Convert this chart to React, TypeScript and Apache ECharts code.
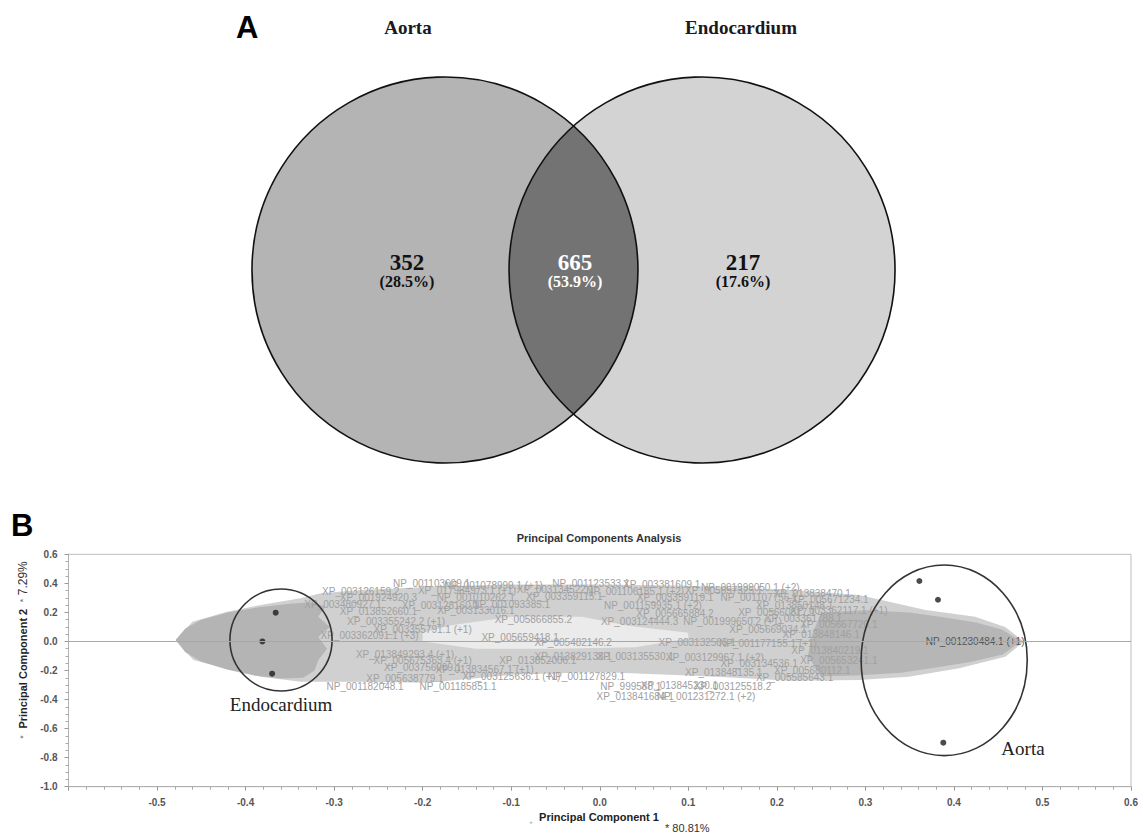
import React, { useEffect, useRef } from 'react';
import * as echarts from 'echarts';

// ---------- Panel A : Venn diagram ----------
const vennSetNames = ['Aorta', 'Endocardium'];
const vennSetCenterX = [-0.666, 0.666];
const vennSetCenterY = [0, 0];
const vennSetRadius = [1, 1];
const vennSetNameX = [-0.858, 0.868];
const vennSetNameY = [1.26, 1.26];
const vennRegionCounts = [352, 665, 217];
const vennRegionPercents = ['28.5%', '53.9%', '17.6%'];
const vennRegionX = [-0.863, 0.008, 0.878];
const vennRegionY = [0.04, 0.04, 0.04];

// ---------- Panel B : PCA ----------
const pcXMin = -0.6;
const pcXMax = 0.6;
const pcXInterval = 0.1;
const pcYMin = -1.0;
const pcYMax = 0.6;
const pcYInterval = 0.2;

const endocardiumPC1 = [-0.366, -0.381, -0.37];
const endocardiumPC2 = [0.198, 0.0, -0.222];
const aortaPC1 = [0.361, 0.382, 0.388];
const aortaPC2 = [0.416, 0.287, -0.697];

const groupNames = ['Endocardium', 'Aorta'];
const groupCenterX = [-0.36, 0.389];
const groupCenterY = [0.01, -0.13];
const groupRadiusX = [0.0577, 0.0938];
const groupRadiusY = [0.351, 0.656];
const groupLabelX = [-0.36, 0.478];
const groupLabelY = [-0.432, -0.735];

// outline of the protein cloud (PC1, PC2)
const cloudOutline = [
  [-0.479, 0.01], [-0.46, 0.136], [-0.421, 0.205], [-0.383, 0.251], [-0.338, 0.297],
  [-0.315, 0.331], [-0.27, 0.354], [-0.176, 0.38], [-0.1, 0.392], [0.0, 0.392],
  [0.1, 0.383], [0.217, 0.354], [0.293, 0.32], [0.368, 0.217], [0.424, 0.17],
  [0.458, 0.1], [0.479, -0.002], [0.458, -0.105], [0.406, -0.185], [0.349, -0.243],
  [0.293, -0.265], [0.217, -0.27], [0.12, -0.24], [0.0, -0.21], [-0.1, -0.23],
  [-0.194, -0.285], [-0.27, -0.277], [-0.338, -0.277], [-0.383, -0.243],
  [-0.421, -0.185], [-0.459, -0.128],
];
const cloudGap = [
  [-0.17, 0.11], [-0.1, 0.17], [-0.02, 0.17], [0.03, 0.11], [0.1, 0.06], [0.1, 0.02],
  [0.04, -0.04], [-0.05, -0.05], [-0.14, -0.05], [-0.2, 0.0], [-0.2, 0.06],
];
const cloudCoreLeft = [
  [-0.479, 0.01], [-0.468, 0.09], [-0.45, 0.15], [-0.42, 0.2], [-0.385, 0.235],
  [-0.35, 0.26], [-0.325, 0.27], [-0.31, 0.24], [-0.318, 0.17], [-0.305, 0.1],
  [-0.318, 0.03], [-0.308, -0.05], [-0.318, -0.13], [-0.322, -0.2], [-0.335, -0.25],
  [-0.36, -0.255], [-0.39, -0.235], [-0.42, -0.195], [-0.45, -0.14], [-0.468, -0.075],
];
const cloudCoreRight = [
  [0.25, 0.2], [0.3, 0.215], [0.35, 0.2], [0.39, 0.165], [0.425, 0.13], [0.455, 0.08],
  [0.476, 0.0], [0.455, -0.09], [0.42, -0.14], [0.38, -0.18], [0.34, -0.215],
  [0.29, -0.235], [0.25, -0.24], [0.235, -0.1], [0.24, 0.05],
];

// protein accession labels [name, PC1, PC2]
const proteinLabels: [string, number, number][] = [
  ['NP_001103609.1', -0.19, 0.4],
  ['NP_001078999.1 (+1)', -0.12, 0.385],
  ['NP_001123533.1', -0.01, 0.4],
  ['XP_003381609.1', 0.07, 0.395],
  ['NP_001999050.1 (+2)', 0.17, 0.37],
  ['XP_003126159.2', -0.27, 0.345],
  ['XP_017984973.1 (+1)', -0.15, 0.35],
  ['XP_003134522.1', -0.05, 0.36],
  ['NP_001106185.1 (+2)', 0.04, 0.345],
  ['XP_005657325.1', 0.14, 0.35],
  ['XP_013838470.1', 0.24, 0.33],
  ['XP_001924920.3', -0.25, 0.3],
  ['NP_001010262.1', -0.14, 0.3],
  ['XP_003359115.1', -0.04, 0.31],
  ['XP_003359119.1', 0.085, 0.305],
  ['NP_001107756.1', 0.18, 0.3],
  ['XP_005671234.1', 0.26, 0.29],
  ['XP_003480927.1', -0.29, 0.255],
  ['XP_003128160.1', -0.18, 0.25],
  ['NP_001093385.1', -0.1, 0.255],
  ['NP_001159935.1 (+2)', 0.06, 0.25],
  ['XP_013850148.1', 0.22, 0.25],
  ['XP_013852660.1', -0.25, 0.205],
  ['XP_003133016.1', -0.14, 0.215],
  ['XP_005665884.2', 0.085, 0.195],
  ['XP_005660817.1', 0.2, 0.2],
  ['XP_003362117.1 (+1)', 0.27, 0.215],
  ['XP_005866855.2', -0.075, 0.148],
  ['XP_003124444.3', 0.045, 0.14],
  ['NP_001999650.2 (+1)', 0.15, 0.14],
  ['XP_003355242.2 (+1)', -0.23, 0.136],
  ['XP_003361788.1', 0.23, 0.16],
  ['XP_005667720.1', 0.27, 0.12],
  ['XP_003355791.1 (+1)', -0.2, 0.08],
  ['XP_005669034.1', 0.19, 0.085],
  ['XP_013848146.1', 0.25, 0.05],
  ['XP_003362091.1 (+3)', -0.26, 0.04],
  ['XP_005659418.1', -0.09, 0.024],
  ['XP_005482146.2', -0.03, -0.005],
  ['XP_003132585.1', 0.11, -0.01],
  ['NP_001177155.1 (+1)', 0.19, -0.015],
  ['XP_013840219.1', 0.26, -0.06],
  ['XP_013849293.4 (+1)', -0.22, -0.093],
  ['XP_013829133.1', -0.03, -0.105],
  ['XP_003135530.1', 0.04, -0.105],
  ['XP_003129967.1 (+2)', 0.13, -0.11],
  ['XP_005675363.4 (+1)', -0.2, -0.13],
  ['XP_013852006.1', -0.07, -0.128],
  ['XP_005653241.1', 0.27, -0.13],
  ['XP_003134536.1', 0.18, -0.15],
  ['XP_003756069.1', -0.2, -0.18],
  ['XP_013834567.1 (+1)', -0.13, -0.19],
  ['XP_013848135.1', 0.14, -0.215],
  ['XP_005680112.1', 0.24, -0.2],
  ['XP_003125636.1 (+1)', -0.1, -0.243],
  ['NP_001127829.1', -0.015, -0.243],
  ['XP_005638779.1', -0.22, -0.252],
  ['XP_005585643.1', 0.22, -0.25],
  ['NP_001182048.1', -0.265, -0.31],
  ['NP_001185851.1', -0.16, -0.31],
  ['NP_999588.1', 0.035, -0.31],
  ['XP_013845230.1', 0.09, -0.305],
  ['XP_003125518.2', 0.15, -0.31],
  ['XP_013841684.1', 0.04, -0.38],
  ['NP_001231272.1 (+2)', 0.12, -0.38],
];
const highlightedProteins: [string, number, number][] = [['NP_001230484.1 (+1)', 0.424, 0.0]];

const SERIF = '"Liberation Serif", "Times New Roman", serif';
const SANS = '"Liberation Sans", Arial, sans-serif';

function polygonSeries(pts: number[][], fill: string) {
  return {
    type: 'custom',
    xAxisIndex: 1,
    yAxisIndex: 1,
    silent: true,
    data: [[0, 0]],
    renderItem: (_p: any, api: any) => ({
      type: 'polygon',
      shape: { points: pts.map((p) => api.coord(p)) },
      style: { fill, stroke: null },
    }),
  };
}

export default function App() {
  const ref = useRef<HTMLDivElement>(null);
  useEffect(() => {
    if (!ref.current) return;
    const chart = echarts.init(ref.current, undefined, { renderer: 'svg' });
    const vennFills = ['#b4b4b4', '#d3d3d3'];

    const option: any = {
      animation: false,
      backgroundColor: '#ffffff',
      grid: [
        { left: 187.5, top: 0, width: 772, height: 540 },
        {
          left: 68.5, top: 554.3, width: 1062.5, height: 232.4,
          show: true, borderColor: '#bdbdbd', borderWidth: 1, backgroundColor: 'transparent',
        },
      ],
      xAxis: [
        { gridIndex: 0, type: 'value', min: -2, max: 2, show: false },
        {
          gridIndex: 1, type: 'value', min: pcXMin, max: pcXMax, interval: pcXInterval,
          axisLine: { show: true, onZero: false, lineStyle: { color: '#b0b0b0' } },
          axisTick: { show: true, length: 4, lineStyle: { color: '#999' } },
          minorTick: { show: true, splitNumber: 5, length: 3, lineStyle: { color: '#aaa' } },
          splitLine: { show: false },
          axisLabel: {
            showMinLabel: false, margin: 11, color: '#555', fontWeight: 'bold', fontSize: 10,
            fontFamily: SANS, formatter: (v: number) => v.toFixed(1),
          },
        },
      ],
      yAxis: [
        { gridIndex: 0, type: 'value', min: -1.4, max: 1.4, show: false },
        {
          gridIndex: 1, type: 'value', min: pcYMin, max: pcYMax, interval: pcYInterval,
          axisLine: { show: true, onZero: false, lineStyle: { color: '#b0b0b0' } },
          axisTick: { show: true, length: 4, lineStyle: { color: '#999' } },
          minorTick: { show: true, splitNumber: 4, length: 3, lineStyle: { color: '#aaa' } },
          splitLine: { show: false },
          axisLabel: {
            margin: 11, color: '#555', fontWeight: 'bold', fontSize: 10, fontFamily: SANS,
            formatter: (v: number) => v.toFixed(1),
          },
        },
      ],
      graphic: [
        { type: 'text', left: 236, top: 12, style: { text: 'A', font: `bold 31px ${SANS}`, fill: '#000' } },
        { type: 'text', left: 11, top: 510, style: { text: 'B', font: `bold 31px ${SANS}`, fill: '#000' } },
        {
          type: 'text', x: 599, y: 538,
          style: { text: 'Principal Components Analysis', font: `bold 11px ${SANS}`, fill: '#333', align: 'center', verticalAlign: 'middle' },
        },
        {
          type: 'text', x: 599, y: 817,
          style: { text: 'Principal Component 1', font: `bold 11px ${SANS}`, fill: '#222', align: 'center', verticalAlign: 'middle' },
        },
        {
          type: 'text', x: 531, y: 824,
          style: { text: '*', font: `9px ${SANS}`, fill: '#bbb', align: 'center', verticalAlign: 'middle' },
        },
        {
          type: 'text', x: 665, y: 828,
          style: { text: '* 80.81%', font: `11px ${SANS}`, fill: '#333', align: 'left', verticalAlign: 'middle' },
        },
        {
          type: 'text', x: 23, y: 650, rotation: Math.PI / 2,
          style: {
            text: '{s|*}  {b|Principal Component 2}  {s|*} {n|7.29%}',
            align: 'center', verticalAlign: 'middle',
            rich: {
              s: { font: `9px ${SANS}`, fill: '#666' },
              b: { font: `bold 11px ${SANS}`, fill: '#222' },
              n: { font: `12px ${SANS}`, fill: '#333' },
            },
          },
        },
      ],
      series: [
        // Venn circle fills
        {
          type: 'custom', xAxisIndex: 0, yAxisIndex: 0, silent: true,
          data: vennSetNames.map((_, i) => [vennSetCenterX[i], vennSetCenterY[i], vennSetRadius[i]]),
          renderItem: (params: any, api: any) => {
            const c = api.coord([api.value(0), api.value(1)]);
            const r = api.size([api.value(2), 0])[0];
            return { type: 'circle', shape: { cx: c[0], cy: c[1], r }, style: { fill: vennFills[params.dataIndex] } };
          },
        },
        // Venn overlap lens
        {
          type: 'custom', xAxisIndex: 0, yAxisIndex: 0, silent: true,
          data: [[0, 0]],
          renderItem: (_p: any, api: any) => {
            const c1 = api.coord([vennSetCenterX[0], vennSetCenterY[0]]);
            const c2 = api.coord([vennSetCenterX[1], vennSetCenterY[1]]);
            const R = api.size([vennSetRadius[0], 0])[0];
            const d = c2[0] - c1[0];
            const a = Math.acos(d / 2 / R);
            const pts: number[][] = [];
            const n = 80;
            for (let i = 0; i <= n; i++) {
              const t = -a + (2 * a * i) / n;
              pts.push([c1[0] + R * Math.cos(t), c1[1] + R * Math.sin(t)]);
            }
            for (let i = 0; i <= n; i++) {
              const t = Math.PI - a + (2 * a * i) / n;
              pts.push([c2[0] + R * Math.cos(t), c2[1] + R * Math.sin(t)]);
            }
            return { type: 'polygon', shape: { points: pts }, style: { fill: '#737373' } };
          },
        },
        // Venn outlines
        {
          type: 'custom', xAxisIndex: 0, yAxisIndex: 0, silent: true,
          data: vennSetNames.map((_, i) => [vennSetCenterX[i], vennSetCenterY[i], vennSetRadius[i]]),
          renderItem: (_params: any, api: any) => {
            const c = api.coord([api.value(0), api.value(1)]);
            const r = api.size([api.value(2), 0])[0];
            return { type: 'circle', shape: { cx: c[0], cy: c[1], r }, style: { fill: 'none', stroke: '#111', lineWidth: 1.6 } };
          },
        },
        // Venn set names
        {
          type: 'custom', xAxisIndex: 0, yAxisIndex: 0, silent: true,
          data: vennSetNames.map((_, i) => [vennSetNameX[i], vennSetNameY[i]]),
          renderItem: (params: any, api: any) => {
            const c = api.coord([api.value(0), api.value(1)]);
            return {
              type: 'text', x: c[0], y: c[1],
              style: { text: vennSetNames[params.dataIndex], font: `bold 19px ${SERIF}`, fill: '#1a1a1a', align: 'center', verticalAlign: 'middle' },
            };
          },
        },
        // Venn region counts
        {
          type: 'custom', xAxisIndex: 0, yAxisIndex: 0, silent: true,
          data: vennRegionCounts.map((_, i) => [vennRegionX[i], vennRegionY[i]]),
          renderItem: (params: any, api: any) => {
            const i = params.dataIndex;
            const c = api.coord([api.value(0), api.value(1)]);
            const fill = i === 1 ? '#ffffff' : '#111111';
            return {
              type: 'group',
              children: [
                { type: 'text', x: c[0], y: c[1], style: { text: String(vennRegionCounts[i]), font: `bold 23px ${SERIF}`, fill, align: 'center', verticalAlign: 'middle' } },
                { type: 'text', x: c[0], y: c[1] + 19.5, style: { text: `(${vennRegionPercents[i]})`, font: `bold 16px ${SERIF}`, fill, align: 'center', verticalAlign: 'middle' } },
              ],
            };
          },
        },
        // PCA protein cloud
        polygonSeries(cloudOutline, '#d0d0d0'),
        polygonSeries(cloudGap, '#ebebeb'),
        polygonSeries(cloudCoreLeft, '#b4b4b4'),
        polygonSeries(cloudCoreRight, '#b6b6b6'),
        {
          type: 'custom', xAxisIndex: 1, yAxisIndex: 1, silent: true,
          data: proteinLabels.map((p) => [p[1], p[2]]),
          renderItem: (params: any, api: any) => {
            const c = api.coord([api.value(0), api.value(1)]);
            return {
              type: 'text', x: c[0], y: c[1],
              style: { text: proteinLabels[params.dataIndex][0], font: `10px ${SANS}`, fill: '#a0a0a0', align: 'center', verticalAlign: 'middle' },
            };
          },
        },
        {
          type: 'custom', xAxisIndex: 1, yAxisIndex: 1, silent: true,
          data: highlightedProteins.map((p) => [p[1], p[2]]),
          renderItem: (params: any, api: any) => {
            const c = api.coord([api.value(0), api.value(1)]);
            return {
              type: 'text', x: c[0], y: c[1],
              style: { text: highlightedProteins[params.dataIndex][0], font: `10px ${SANS}`, fill: '#555', align: 'center', verticalAlign: 'middle' },
            };
          },
        },
        // samples
        {
          name: 'Endocardium', type: 'scatter', xAxisIndex: 1, yAxisIndex: 1,
          symbolSize: 6, itemStyle: { color: '#1e1e1e' },
          data: endocardiumPC1.map((x, i) => [x, endocardiumPC2[i]]),
          markLine: {
            silent: true, symbol: 'none', label: { show: false },
            lineStyle: { color: '#a8a8a8', width: 1, type: 'solid' },
            data: [{ yAxis: 0 }],
          },
        },
        {
          name: 'Aorta', type: 'scatter', xAxisIndex: 1, yAxisIndex: 1,
          symbolSize: 6, itemStyle: { color: '#1e1e1e' },
          data: aortaPC1.map((x, i) => [x, aortaPC2[i]]),
        },
        // group ellipses + names
        {
          type: 'custom', xAxisIndex: 1, yAxisIndex: 1, silent: true,
          data: groupNames.map((_, i) => [groupCenterX[i], groupCenterY[i], groupRadiusX[i], groupRadiusY[i], groupLabelX[i], groupLabelY[i]]),
          renderItem: (params: any, api: any) => {
            const c = api.coord([api.value(0), api.value(1)]);
            const sz = api.size([api.value(2), api.value(3)]);
            const l = api.coord([api.value(4), api.value(5)]);
            return {
              type: 'group',
              children: [
                { type: 'ellipse', shape: { cx: c[0], cy: c[1], rx: sz[0], ry: sz[1] }, style: { fill: 'none', stroke: '#333', lineWidth: 1.6 } },
                { type: 'text', x: l[0], y: l[1], style: { text: groupNames[params.dataIndex], font: `19px ${SERIF}`, fill: '#222', align: 'center', verticalAlign: 'middle' } },
              ],
            };
          },
        },
      ],
    };
    chart.setOption(option);
    return () => chart.dispose();
  }, []);
  return <div ref={ref} style={{ width: 1144, height: 835, position: 'absolute', left: 0, top: 0 }} />;
}
